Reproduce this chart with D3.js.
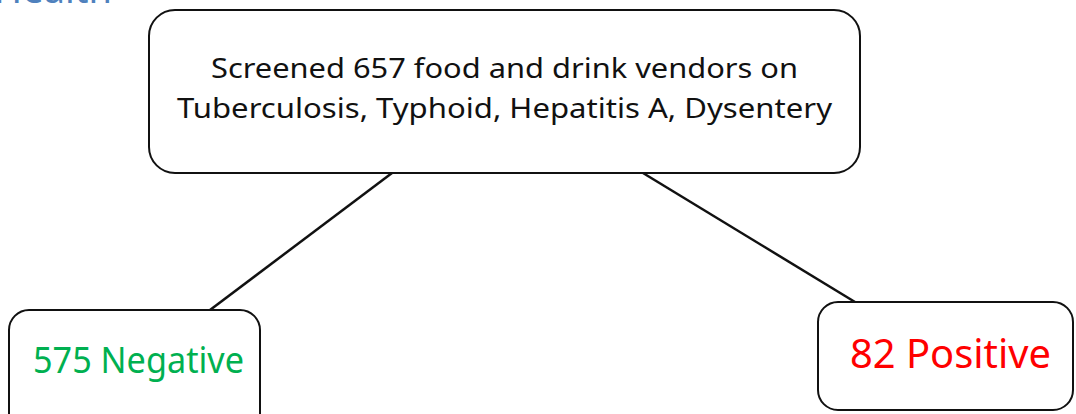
<!DOCTYPE html>
<html>
<head>
<meta charset="utf-8">
<script src="https://cdn.jsdelivr.net/npm/d3@7"></script>
<style>
  html, body { margin: 0; padding: 0; background: #fff; overflow: hidden; }
  svg { display: block; }
</style>
</head>
<body>
<div id="chart"></div>
<script>
// donnees du schema
const rootLines = ["Screened 657 food and drink vendors on", "Tuberculosis, Typhoid, Hepatitis A, Dysentery"];
const screened = 657;
const outcomes = ["Negative", "Positive"];
const outcomeCounts = [575, 82];
const outcomeColors = ["#00b050", "#ff0000"];
const headerText = "Health";

const width = 1076, height = 414;

const svg = d3.select("#chart")
    .append("svg")
    .attr("width", width)
    .attr("height", height);

// titre coupe en haut a gauche
svg.append("text")
    .attr("x", 112)
    .attr("y", 3)
    .attr("text-anchor", "end")
    .style("font-family", "'Noto Sans', sans-serif")
    .style("font-size", "38px")
    .style("fill", "#4f81bd")
    .text(headerText);

// boite racine
const rootBox = { x: 149, y: 10, w: 711, h: 163 };
svg.append("rect")
    .attr("x", rootBox.x).attr("y", rootBox.y)
    .attr("width", rootBox.w).attr("height", rootBox.h)
    .attr("rx", 26).attr("ry", 26)
    .style("fill", "#fff")
    .style("stroke", "#111")
    .style("stroke-width", 2);

const lineLens = [587, 655];
svg.selectAll(".root-line")
    .data(rootLines)
    .enter()
    .append("text")
    .attr("class", "root-line")
    .attr("x", rootBox.x + rootBox.w / 2)
    .attr("y", (d, i) => 78 + i * 40)
    .attr("text-anchor", "middle")
    .attr("textLength", (d, i) => lineLens[i])
    .attr("lengthAdjust", "spacingAndGlyphs")
    .style("font-family", "'Noto Sans', sans-serif")
    .style("font-size", "28px")
    .style("fill", "#111")
    .text(d => d);

// boites du bas : position selon la part du total
const kids = outcomes.map((name, i) => ({ name: name, count: outcomeCounts[i], color: outcomeColors[i] }));
const boxes = [
    { x: 9, y: 310, w: 251, h: 130, rx: 20, tx: 33, ty: 373, fs: 36, tl: 211, attach: 210, from: 392 },
    { x: 818, y: 302, w: 255, h: 108, rx: 20, tx: 850, ty: 368, fs: 40, tl: 201, attach: 855, from: 643 }
];

svg.selectAll(".link")
    .data(kids)
    .enter()
    .append("line")
    .attr("class", "link")
    .attr("x1", (d, i) => boxes[i].from)
    .attr("y1", rootBox.y + rootBox.h)
    .attr("x2", (d, i) => boxes[i].attach)
    .attr("y2", (d, i) => boxes[i].y)
    .style("stroke", "#111")
    .style("stroke-width", 2.5);

const nodes = svg.selectAll(".node")
    .data(kids)
    .enter()
    .append("g")
    .attr("class", "node");

nodes.append("rect")
    .attr("x", (d, i) => boxes[i].x)
    .attr("y", (d, i) => boxes[i].y)
    .attr("width", (d, i) => boxes[i].w)
    .attr("height", (d, i) => boxes[i].h)
    .attr("rx", (d, i) => boxes[i].rx)
    .style("fill", "#fff")
    .style("stroke", "#111")
    .style("stroke-width", 2);

nodes.append("text")
    .attr("x", (d, i) => boxes[i].tx)
    .attr("y", (d, i) => boxes[i].ty)
    .attr("textLength", (d, i) => boxes[i].tl)
    .attr("lengthAdjust", "spacingAndGlyphs")
    .style("font-family", "'Noto Sans', sans-serif")
    .style("font-size", (d, i) => boxes[i].fs + "px")
    .style("fill", d => d.color)
    .text(d => d.count + " " + d.name);
</script>
</body>
</html>
